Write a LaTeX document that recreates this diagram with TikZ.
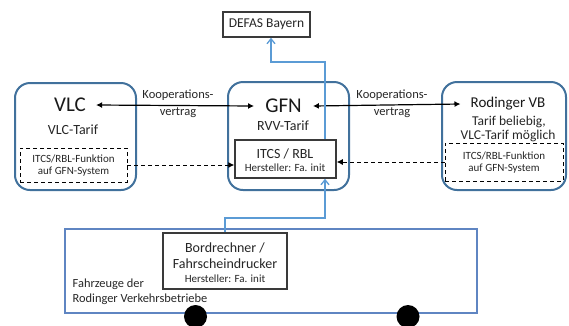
\documentclass[tikz,border=0pt]{standalone}
\usepackage{fontspec}
\setmainfont{Carlito}
\usetikzlibrary{arrows.meta}
\definecolor{boxblue}{HTML}{41719C}
\definecolor{linkblue}{HTML}{5B9BD5}
\definecolor{busblue}{HTML}{5F85C2}
\definecolor{boxgray}{HTML}{3A3A3A}
\newcommand{\fsBig}{\fontsize{21}{24}\selectfont}
\newcommand{\fsMed}{\fontsize{14}{16}\selectfont}
\newcommand{\fsSmall}{\fontsize{11}{12}\selectfont}
\tikzset{
  rbox/.style={draw=boxblue, line width=2pt, rounded corners=15pt, inner sep=0pt},
  dbox/.style={draw=black, line width=0.9pt, dash pattern=on 4pt off 3pt, inner sep=0pt},
  gbox/.style={draw=boxgray, line width=1.5pt, inner sep=0pt, fill=white},
  txt/.style={inner sep=0pt, text=black!85},
  ttl/.style={inner xsep=10pt, inner ysep=0pt, text=black!90},
  koop/.style={black, line width=1.2pt, {Latex[length=6pt,width=6pt]}-{Latex[length=6pt,width=6pt]}},
  dasharrow/.style={black, line width=0.9pt, dash pattern=on 4pt off 3pt, -{Latex[length=6pt,width=6pt]}},
  bluelink/.style={linkblue, line width=1.3pt, -{Straight Barb[length=5pt,width=8pt]}},
}
\begin{document}
\begin{tikzpicture}[x=1pt,y=-1pt]
\useasboundingbox (0,0) rectangle (569,325);
\clip (0,0) rectangle (569,325);
% boxes
\node[rbox, minimum width=121pt, minimum height=107pt] (vlc) at (75.5,136.5) {};
\node[rbox, minimum width=121pt, minimum height=108pt] (gfn) at (288.5,136) {};
\node[rbox, minimum width=124pt, minimum height=108pt] (rod) at (504,136) {};
\node[gbox, minimum width=87pt, minimum height=25pt] (defas) at (266.5,24.5) {};
\node[gbox, minimum width=101pt, minimum height=38pt] (itcs) at (285.5,159) {};
\node[dbox, minimum width=107pt, minimum height=34pt] (dl) at (73.5,165) {};
\node[dbox, minimum width=118pt, minimum height=38pt] (dr) at (504,162) {};
% bus
\node[draw=busblue, line width=1.4pt, inner sep=0pt, minimum width=412pt, minimum height=84pt] (bus) at (271,271) {};
\node[gbox, minimum width=124pt, minimum height=56pt] (bord) at (225,261) {};
\node[circle, fill=black, inner sep=0pt, minimum size=23pt] (w1) at (195.5,316.5) {};
\node[circle, fill=black, inner sep=0pt, minimum size=23pt] (w2) at (408,316.5) {};
% texts
\node[txt] (defast) at (266.5,24.5) {\fontsize{13.5}{15}\selectfont DEFAS Bayern};
\node[ttl] (vlct) at (70,105) {\fsBig VLC};
\node[txt] (vlcs) at (73,130) {\fsMed VLC-Tarif};
\node[ttl, inner xsep=11pt] (gfnt) at (283.5,106) {\fsBig GFN};
\node[txt] (gfns) at (283,126) {\fsMed RVV-Tarif};
\node[ttl] (rodt) at (508,104) {\fontsize{15}{17}\selectfont Rodinger VB};
\node[txt] (rods1) at (509,121.5) {\fontsize{13.5}{15}\selectfont Tarif beliebig,};
\node[txt] (rods2) at (508,135.5) {\fontsize{13.5}{15}\selectfont VLC-Tarif möglich};
\node[txt] (itcst1) at (285,154) {\fsMed ITCS / RBL};
\node[txt] (itcst2) at (285,167.5) {\fsSmall Hersteller: Fa. init};
\node[txt, align=center, font={\fontsize{11}{11.5}\selectfont}] (dlt) at (73.5,165.5) {ITCS/RBL-Funktion\\auf GFN-System};
\node[txt, align=center, font={\fontsize{11}{12}\selectfont}] (drt) at (504,163) {ITCS/RBL-Funktion\\auf GFN-System};
\node[txt, align=center, font={\fontsize{12.5}{17}\selectfont}] (k1) at (178,103.5) {Kooperations-\\vertrag};
\node[txt, align=center, font={\fontsize{12.5}{17}\selectfont}] (k2) at (392,103.5) {Kooperations-\\vertrag};
\node[txt] (bt1) at (225,248) {\fsMed Bordrechner /};
\node[txt] (bt2) at (225,264) {\fsMed Fahrscheindrucker};
\node[txt] (bt3) at (225,278.5) {\fsSmall Hersteller: Fa. init};
\node[txt, align=left, anchor=west, font={\fontsize{12.4}{15.5}\selectfont}] (bust) at (72.5,292) {Fahrzeuge der\\Rodinger Verkehrsbetriebe};
% connectors
\draw[koop] (vlct.east) -- (gfnt.west);
\draw[koop] (gfnt.east) -- (rodt.west);
\draw[dasharrow] (dl.east) -- (dl.east -| itcs.west);
\draw[dasharrow] (dr.west) -- (dr.west -| itcs.east);
\coordinate (b1) at (225,218);
\coordinate (b2) at (325,218);
\draw[bluelink] (bord.north) -- (b1) -- (b2) -- (b2 |- itcs.south);
\coordinate (d1) at (325,62);
\coordinate (d2) at (271,62);
\draw[bluelink] (d1 |- itcs.north) -- (d1) -- (d2) -- (d2 |- defas.south);
\end{tikzpicture}
\end{document}
